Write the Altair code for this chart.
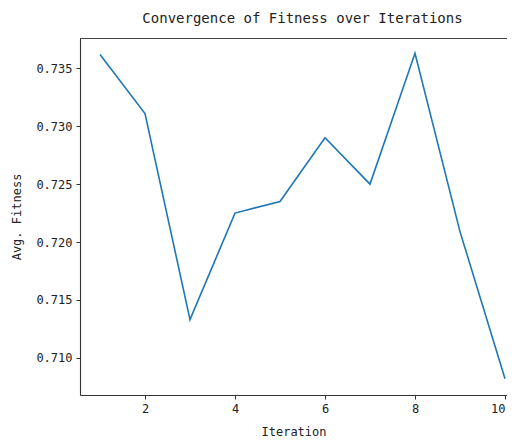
import altair as alt
import pandas as pd

iterations = [1, 2, 3, 4, 5, 6, 7, 8, 9, 10]
avg_fitness = [0.7362, 0.7311, 0.7133, 0.7225, 0.7235, 0.7290, 0.7250, 0.7363, 0.7209, 0.7082]
x_ticks = [2, 4, 6, 8, 10]
y_ticks = [0.710, 0.715, 0.720, 0.725, 0.730, 0.735]

df = pd.DataFrame({"iteration": iterations, "fitness": avg_fitness})

FONT = "DejaVu Sans Mono"
W, H = 427, 357

line = alt.Chart(df).mark_line(color="#1f77b4", strokeWidth=1.6).encode(
    x=alt.X("iteration:Q",
            scale=alt.Scale(domain=[0.5556, 0.5556 + W / 45.0], nice=False, zero=False),
            axis=alt.Axis(values=x_ticks, format="d", title="Iteration",
                          grid=False, tickSize=4, labelPadding=4, titlePadding=12,
                          labelFlush=6,
                          domainColor="#333", tickColor="#333", domainWidth=1.1)),
    y=alt.Y("fitness:Q",
            scale=alt.Scale(domain=[0.70679, 0.73762], nice=False, zero=False),
            axis=alt.Axis(values=y_ticks, format=".3f", title="Avg. Fitness",
                          grid=False, tickSize=4, labelPadding=4, titlePadding=12,
                          labelFlush=False,
                          domainColor="#333", tickColor="#333", domainWidth=1.1)),
)

top_spine = alt.Chart(df).mark_rule(color="#444", strokeWidth=1).encode(
    x=alt.value(0), x2=alt.value(W), y=alt.value(0.5)
)

chart = alt.layer(line, top_spine).properties(
    width=W, height=H,
    autosize=alt.AutoSizeParams(type="none"),
    padding={"left": 72, "top": 30, "right": 0, "bottom": 43},
    title=alt.TitleParams("Convergence of Fitness over Iterations", anchor="middle",
                          fontSize=14, font=FONT, fontWeight="normal", color="#222",
                          offset=12, dx=9),
).configure_view(stroke=None).configure_axis(
    labelFont=FONT, titleFont=FONT, labelFontSize=12, titleFontSize=12,
    labelColor="#222", titleColor="#222", titleFontWeight="normal"
)

chart.save("out.html", embed_options={"renderer": "svg", "actions": False})
